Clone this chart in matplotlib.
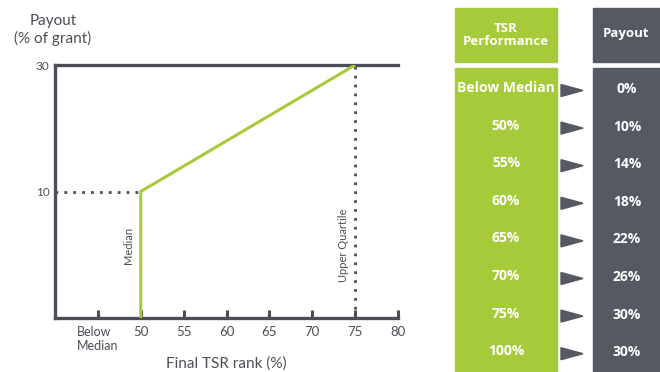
import matplotlib.pyplot as plt
from matplotlib.patches import Rectangle, Polygon

# ---- data ----
x_ticks = [45, 50, 55, 60, 65, 70, 75, 80]
x_tick_labels = ["Below\nMedian", "50", "55", "60", "65", "70", "75", "80"]
y_ticks = [10, 30]

payout_x = [50, 50, 75]
payout_y = [-10, 10, 30]

tsr_levels = ["Below Median", "50%", "55%", "60%", "65%", "70%", "75%", "100%"]
payouts = ["0%", "10%", "14%", "18%", "22%", "26%", "30%", "30%"]

GREEN = "#a6cb3a"
GREY = "#555961"
DARK = "#4b4e56"

plt.rcParams["font.family"] = ["Lato", "DejaVu Sans"]

fig = plt.figure(figsize=(6.6, 3.72), dpi=100)

# ================= CHART =================
ax = fig.add_axes([55 / 660, 1 - 318 / 372, 343 / 660, 253 / 372])
ax.plot(payout_x, payout_y, color=GREEN, lw=2.2, solid_capstyle="butt", zorder=3)
ax.plot([40, 50], [10, 10], color=DARK, lw=2, ls=(0, (1, 2.2)))
ax.plot([75, 75], [-10, 30], color=DARK, lw=2, ls=(0, (1, 2.2)))

ax.set_xlim(40, 80)
ax.set_ylim(-10, 30)
ax.set_xticks(x_ticks)
ax.set_xticklabels(x_tick_labels, fontsize=9.5, color=DARK)
ax.set_yticks(y_ticks)
ax.set_yticklabels([str(v) for v in y_ticks], fontsize=8.5, color=DARK)
ax.tick_params(axis="x", direction="in", length=6, width=2.2, color=DARK, pad=6)
ax.tick_params(axis="y", length=0, pad=4)
first = ax.get_xticklabels()[0]
first.set_multialignment("left")
first.set_fontsize(9)

for side in ["left", "bottom", "top"]:
    ax.spines[side].set_color(DARK)
    ax.spines[side].set_linewidth(2.4)
ax.spines["right"].set_visible(False)

ax.text(48.6, 1.5, "Median", rotation=90, fontsize=8, color=DARK, ha="center", va="center")
ax.text(73.6, 1.5, "Upper Quartile", rotation=90, fontsize=8, color=DARK,
        ha="center", va="center")

ax.set_xlabel("Final TSR rank (%)", fontsize=11, color=DARK, labelpad=3)
fig.text(53 / 660, 1 - 30 / 372, "Payout\n(% of grant)", fontsize=11, color=DARK,
         ha="center", va="center", linespacing=1.3)

# ================= TABLE =================
tab = fig.add_axes([0, 0, 1, 1])
tab.set_xlim(0, 660)
tab.set_ylim(372, 0)
tab.axis("off")

tab.add_patch(Rectangle((455, 8), 102, 54, color=GREEN))
tab.add_patch(Rectangle((593, 8), 67, 54, color=GREY))
tab.add_patch(Rectangle((455, 68), 102, 304, color=GREEN))
tab.add_patch(Rectangle((593, 68), 67, 304, color=GREY))

bold = dict(color="white", fontweight="bold", family=["Open Sans", "DejaVu Sans"],
            ha="center", va="center")
tab.text(506, 35, "TSR\nPerformance", fontsize=9.5, linespacing=1.0, **bold)
tab.text(626, 33, "Payout", fontsize=9.5, **bold)

row_h = 37.6
for i, (lvl, pay) in enumerate(zip(tsr_levels, payouts)):
    yc = 88 + i * row_h
    tab.text(506, yc, lvl, fontsize=10, **bold)
    tab.text(627, yc + 1, pay, fontsize=10, **bold)
    ya = yc + 2.5
    tab.add_patch(Polygon([[561, ya - 6], [561, ya + 6], [583, ya]], color=GREY))

fig.savefig("out.png", dpi=100)
